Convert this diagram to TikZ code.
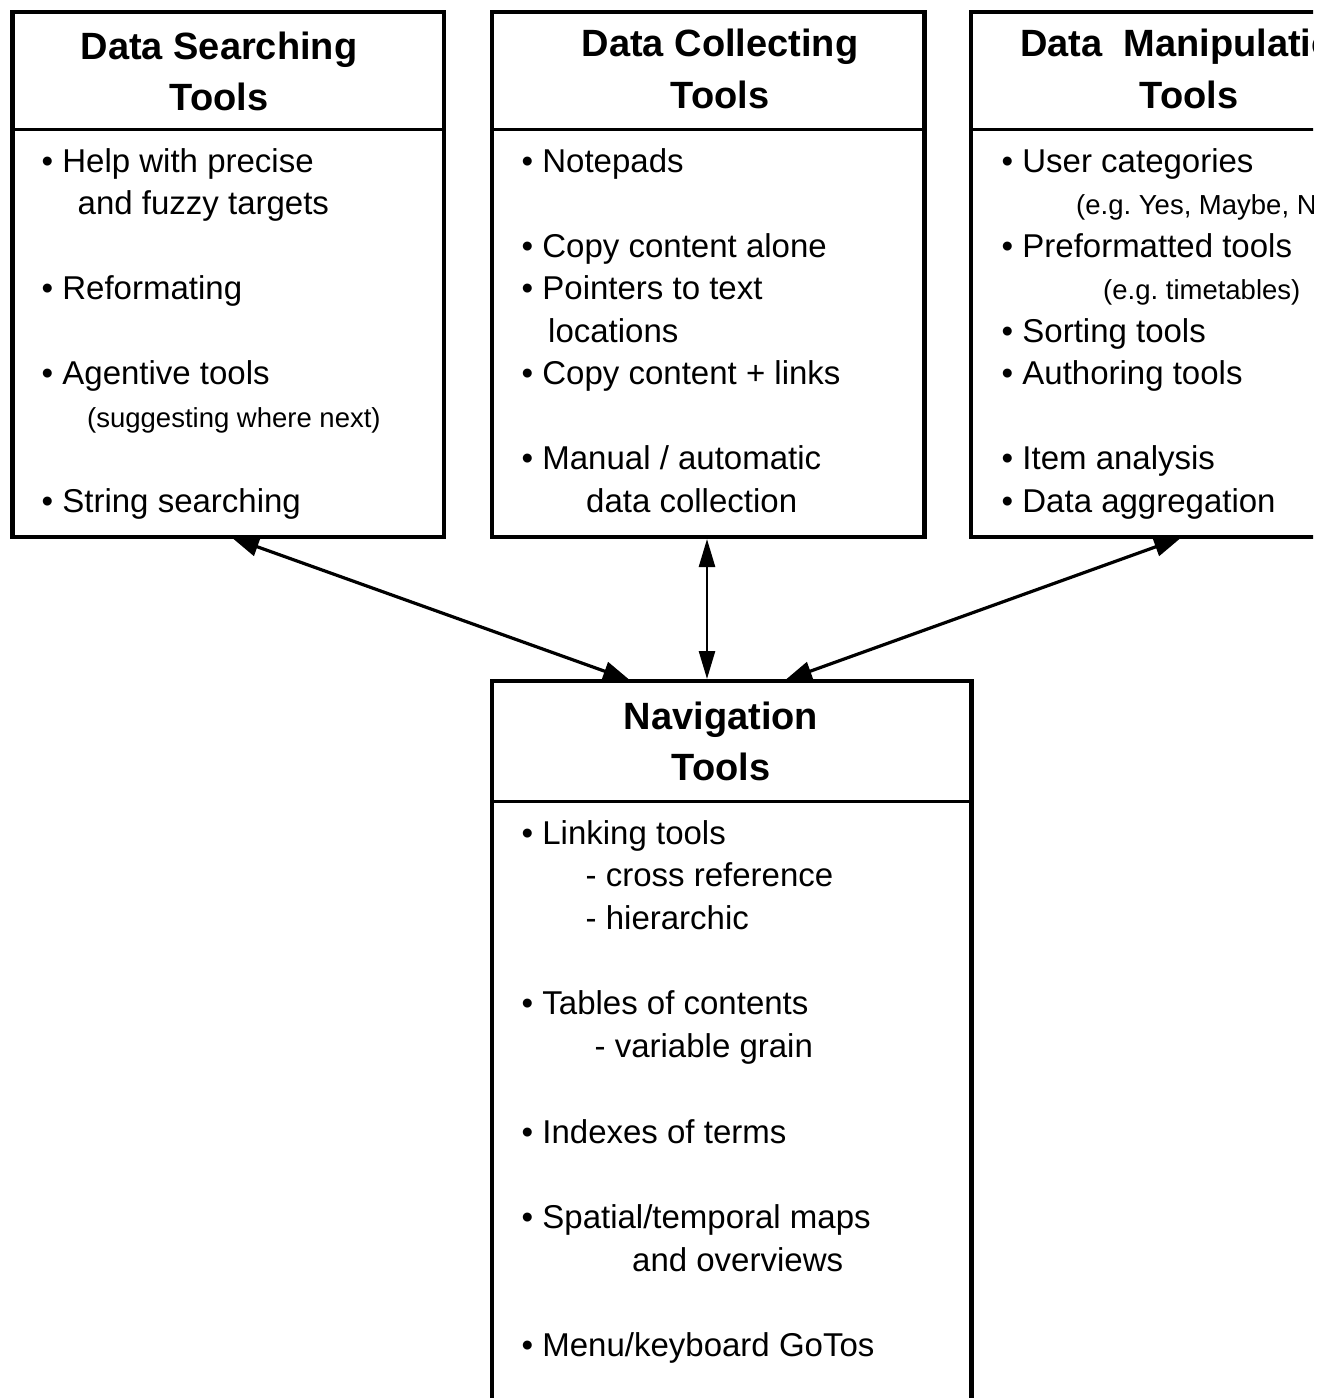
\documentclass[tikz,border=0pt]{standalone}
\usepackage{fontspec}
\setmainfont{Liberation Sans}
\usetikzlibrary{arrows.meta}
\frenchspacing

\newcommand{\ttlfont}{\fontsize{38}{45}\selectfont\bfseries}
\newcommand{\itmfont}{\fontsize{33}{40}\selectfont}
\newcommand{\notefont}{\fontsize{27.5}{33}\selectfont}

\begin{document}
\begin{tikzpicture}[x=1pt, y=-1pt,
  toolbox/.style={draw, line width=4.5pt, rectangle, inner sep=0pt, outer sep=0pt, anchor=north west},
  divider/.style={line width=3pt},
  ttl/.style={font=\ttlfont, anchor=base, inner sep=0pt},
  itm/.style={font=\itmfont, anchor=base west, inner sep=0pt},
  note/.style={font=\notefont, anchor=base west, inner sep=0pt},
  link/.style={line width=3.2pt, shorten <=2pt, shorten >=2pt,
    {Triangle[length=27pt,width=19pt]}-{Triangle[length=27pt,width=19pt]}},
  vlink/.style={line width=2.6pt, shorten <=2pt, shorten >=2pt,
    {Triangle[length=28pt,width=16pt]}-{Triangle[length=28pt,width=16pt]}}
]
\fill[white] (0,0) rectangle (1334,1398);
\useasboundingbox (0,0) rectangle (1334,1398);

\begin{scope}
\clip (0,0) rectangle (1313,1398);

% the four tool boxes
\node[toolbox, minimum width=431.5pt, minimum height=525pt] (sbox) at (12.5,12) {};
\node[toolbox, minimum width=432.5pt, minimum height=525pt] (cbox) at (492,12) {};
\node[toolbox, minimum width=436pt,   minimum height=525pt] (mbox) at (971,12) {};
\node[toolbox, minimum width=479.5pt, minimum height=760pt] (nbox) at (492,681) {};

% header rules
\draw[divider] (12.5,129) -- (444,129);
\draw[divider] (492,129) -- (924.5,129);
\draw[divider] (971,129) -- (1407,129);
\draw[divider] (492,801) -- (971.5,801);

% headings
\node[ttl] (st1) at (219,59) {Data Searching};
\node[ttl] (st2) at (219,110) {Tools};
\node[ttl] (ct1) at (720,56) {Data Collecting};
\node[ttl] (ct2) at (720,108) {Tools};
\node[ttl] (mt1) at (1189,56) {Data~~Manipulation};
\node[ttl] (mt2) at (1189,108) {Tools};
\node[ttl] (nt1) at (721,729) {Navigation};
\node[ttl] (nt2) at (721,780) {Tools};

% searching tools
\node[itm]  (s1) at (41.5,172)   {• Help with precise};
\node[itm]  (s2) at (77.5,214.5) {and fuzzy targets};
\node[itm]  (s3) at (41.5,299.5) {• Reformating};
\node[itm]  (s4) at (41.5,384.5) {• Agentive tools};
\node[note] (s5) at (87,427)     {(suggesting where next)};
\node[itm]  (s6) at (41.5,512)   {• String searching};

% collecting tools
\node[itm] (c1) at (521.5,172)   {• Notepads};
\node[itm] (c2) at (521.5,257)   {• Copy content alone};
\node[itm] (c3) at (521.5,299.5) {• Pointers to text};
\node[itm] (c4) at (548,342)     {locations};
\node[itm] (c5) at (521.5,384.5) {• Copy content + links};
\node[itm] (c6) at (521.5,469.5) {• Manual / automatic};
\node[itm] (c7) at (586,512)     {data collection};

% manipulation tools
\node[itm]  (m1) at (1001.5,172)   {• User categories};
\node[note] (m2) at (1076,214.5)   {(e.g. Yes, Maybe, No)};
\node[itm]  (m3) at (1001.5,257)   {• Preformatted tools};
\node[note] (m4) at (1103,299.5)   {(e.g. timetables)};
\node[itm]  (m5) at (1001.5,342)   {• Sorting tools};
\node[itm]  (m6) at (1001.5,384.5) {• Authoring tools};
\node[itm]  (m7) at (1001.5,469.5) {• Item analysis};
\node[itm]  (m8) at (1001.5,512)   {• Data aggregation};

% navigation tools
\node[itm] (n1) at (521.5,844)    {• Linking tools};
\node[itm] (n2) at (585.5,886.5)  {- cross reference};
\node[itm] (n3) at (585.5,929)    {- hierarchic};
\node[itm] (n4) at (521.5,1014.5) {• Tables of contents};
\node[itm] (n5) at (594.5,1057)   {- variable grain};
\node[itm] (n6) at (521.5,1143)   {• Indexes of terms};
\node[itm] (n7) at (521.5,1228.5) {• Spatial/temporal maps};
\node[itm] (n8) at (632,1271)     {and overviews};
\node[itm] (n9) at (521.5,1356)   {• Menu/keyboard GoTos};

% links between the boxes
\draw[link]  ([xshift=217.5pt]sbox.south west) -- ([xshift=140pt]nbox.north west);
\draw[vlink] ([xshift=215pt]cbox.south west) -- ([xshift=215pt]nbox.north west);
\draw[link]  ([xshift=212pt]mbox.south west) -- ([xshift=291pt]nbox.north west);
\end{scope}
\end{tikzpicture}
\end{document}
